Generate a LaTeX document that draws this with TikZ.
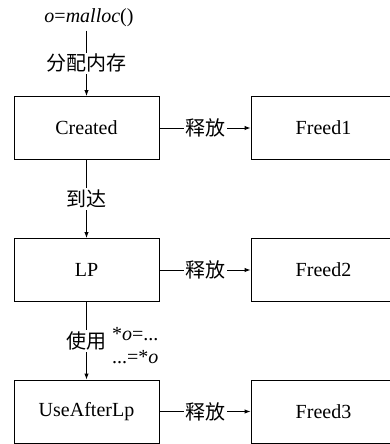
\documentclass[tikz,border=0pt]{standalone}
\usepackage{fontspec}
\setmainfont{Liberation Serif}
\newfontfamily\cjk{Noto Sans CJK SC}
\usetikzlibrary{arrows.meta}

\begin{document}
\begin{tikzpicture}[x=1pt,y=-1pt,
    font=\fontsize{20}{23}\selectfont,
    state/.style={draw,line width=1pt,minimum width=145pt,minimum height=63pt,inner sep=0pt},
    act/.style={fill=white,inner sep=1.5pt,font=\fontsize{20}{23}\selectfont\cjk},
    flow/.style={line width=1pt,-{Latex[length=6pt,width=4.5pt]}}]
    \useasboundingbox (0,0) rectangle (389,444);
    \node (Start) at (89,18) {\textit{o}=\textit{malloc}()};
    \node[state] (Created) at (86.5,128) {Created};
    \node[state] (LP) at (86.5,270) {LP};
    \node[state] (UseAfterLp) at (86.5,411.5) {UseAfterLp};
    \node[state] (Freed1) at (323.5,128) {Freed1};
    \node[state] (Freed2) at (323.5,270) {Freed2};
    \node[state] (Freed3) at (323.5,411.5) {Freed3};
    \node[anchor=west,align=left,inner sep=0pt] (Deref) at (112,346) {*\textit{o}=...\\...=*\textit{o}};
    \draw[flow] (Start.south -| Created.north) -- node[act] {分配内存} (Created);
    \draw[flow] (Created) -- node[act] {到达} (LP);
    \draw[flow] (LP) -- node[act] {使用} (UseAfterLp);
    \draw[flow] (Created) -- node[act] {释放} (Freed1);
    \draw[flow] (LP) -- node[act] {释放} (Freed2);
    \draw[flow] (UseAfterLp) -- node[act] {释放} (Freed3);
\end{tikzpicture}
\end{document}
